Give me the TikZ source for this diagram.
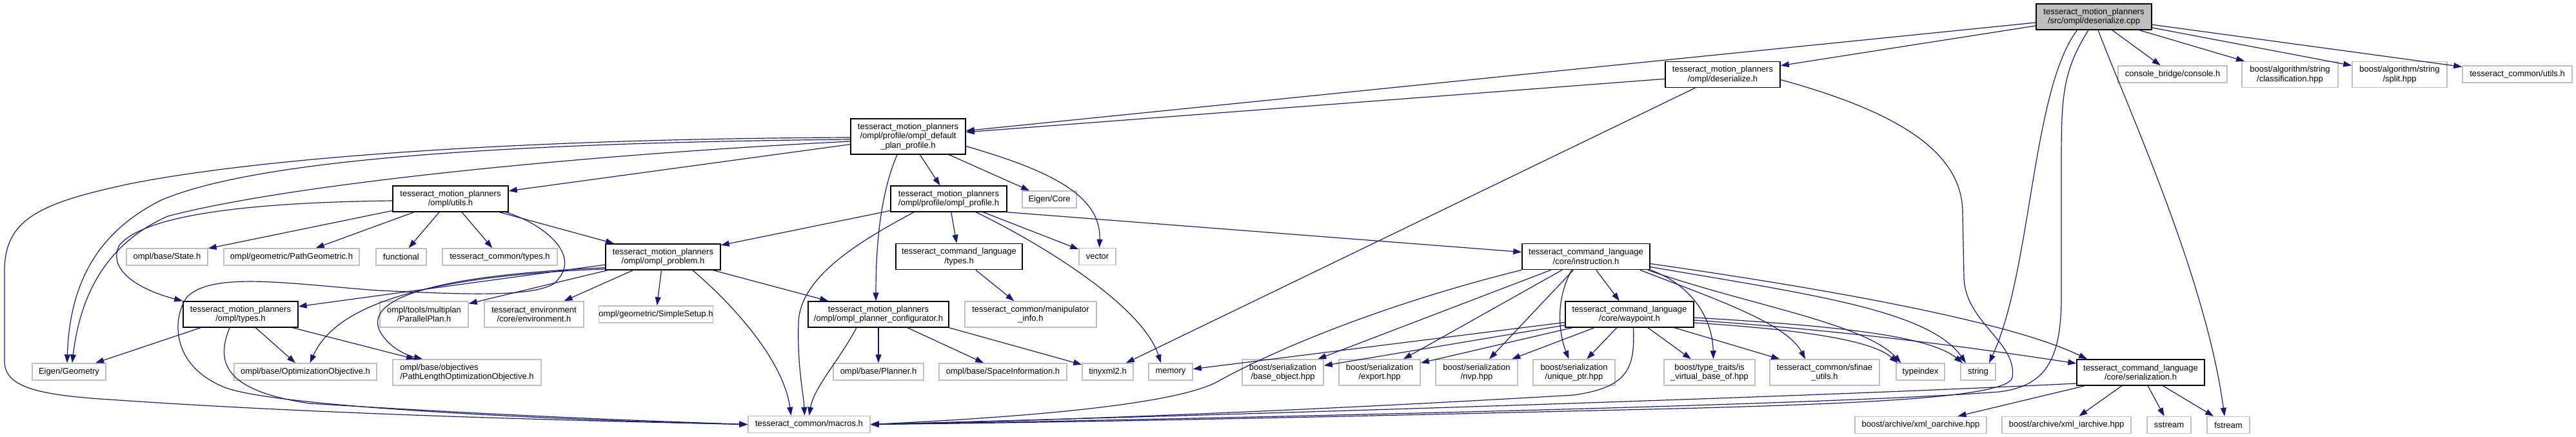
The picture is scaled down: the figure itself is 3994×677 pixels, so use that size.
\documentclass[tikz,border=0pt]{standalone}
\usepackage{fontspec}
\setmainfont{Liberation Sans}
\usetikzlibrary{arrows.meta}
\definecolor{edgeblue}{RGB}{25,25,112}
\definecolor{leafgray}{RGB}{191,191,191}

\begin{document}
\begin{tikzpicture}[x=1pt, y=-1pt,
    file/.style={draw=leafgray, line width=1.5pt, fill=white,
                 font=\fontsize{13pt}{14.5pt}\selectfont,
                 align=center, inner sep=0pt, minimum height=26pt},
    hdr/.style={file, draw=black},
    two/.style={minimum height=40pt},
    arr/.style={-{Triangle[length=13pt,width=9pt]}, line width=1.2pt, color=edgeblue}
  ]
  \useasboundingbox (0,0) rectangle (3994,677);

  \node[hdr, fill=leafgray, two, minimum width=179pt] (root) at (3246.5,26) {tesseract\_motion\_planners\\/src/ompl/deserialize.cpp};
  \node[hdr, two, minimum width=178pt] (deserH) at (2671,115.5) {tesseract\_motion\_planners\\/ompl/deserialize.h};
  \node[file, minimum width=169pt] (cbConsole) at (3368.5,115) {console\_bridge/console.h};
  \node[file, two, minimum width=149pt] (boostClass) at (3550.5,115.5) {boost/algorithm/string\\/classification.hpp};
  \node[file, two, minimum width=147pt] (boostSplit) at (3720.5,115.5) {boost/algorithm/string\\/split.hpp};
  \node[file, minimum width=170pt] (cmnUtils) at (3903,115) {tesseract\_common/utils.h};
  \node[hdr, minimum height=55pt, minimum width=178pt] (defProfile) at (1408,211.5) {tesseract\_motion\_planners\\/ompl/profile/ompl\_default\\\_plan\_profile.h};
  \node[hdr, two, minimum width=180pt] (omplProfile) at (1471,308) {tesseract\_motion\_planners\\/ompl/profile/ompl\_profile.h};
  \node[file, minimum width=84pt] (eigenCore) at (1627,309) {Eigen/Core};
  \node[hdr, two, minimum width=179pt] (omplUtils) at (698.5,308) {tesseract\_motion\_planners\\/ompl/utils.h};
  \node[file, minimum width=126pt] (omplState) at (259,398) {ompl/base/State.h};
  \node[file, minimum width=210pt] (pathGeom) at (452,398) {ompl/geometric/PathGeometric.h};
  \node[file, minimum width=78pt] (functional) at (622,398) {functional};
  \node[file, minimum width=178pt] (cmnTypes) at (775,398) {tesseract\_common/types.h};
  \node[hdr, two, minimum width=178pt] (omplProblem) at (1028,398) {tesseract\_motion\_planners\\/ompl/ompl\_problem.h};
  \node[file, minimum width=57pt] (vectorH) at (1701.5,397.5) {vector};
  \node[hdr, two, minimum width=196pt] (clTypes) at (1487,397.5) {tesseract\_command\_language\\/types.h};
  \node[hdr, two, minimum width=198pt] (instr) at (2459,397.5) {tesseract\_command\_language\\/core/instruction.h};
  \node[hdr, two, minimum width=178pt] (omplTypes) at (373,487) {tesseract\_motion\_planners\\/ompl/types.h};
  \node[file, two, minimum width=137pt] (parallelPlan) at (657.5,487) {ompl/tools/multiplan\\/ParallelPlan.h};
  \node[file, two, minimum width=154pt] (envCore) at (828,487) {tesseract\_environment\\/core/environment.h};
  \node[file, minimum width=176pt] (simpleSetup) at (1017,487) {ompl/geometric/SimpleSetup.h};
  \node[hdr, two, minimum width=218pt] (plannerCfg) at (1362,487) {tesseract\_motion\_planners\\/ompl/ompl\_planner\_configurator.h};
  \node[file, two, minimum width=204pt] (manipInfo) at (1598,487) {tesseract\_common/manipulator\\\_info.h};
  \node[hdr, two, minimum width=199pt] (waypoint) at (2526.5,487) {tesseract\_command\_language\\/core/waypoint.h};
  \node[file, minimum width=114pt] (eigenGeom) at (107,576) {Eigen/Geometry};
  \node[file, minimum width=221pt] (optObj) at (473.5,576) {ompl/base/OptimizationObjective.h};
  \node[file, two, minimum width=230pt, align=left] (pathLenObj) at (724,577) {ompl/base/objectives\\/PathLengthOptimizationObjective.h};
  \node[file, minimum width=140pt] (omplPlanner) at (1362,576) {ompl/base/Planner.h};
  \node[file, minimum width=198pt] (spaceInfo) at (1555,576) {ompl/base/SpaceInformation.h};
  \node[file, minimum width=79pt] (tinyxml) at (1717.5,576) {tinyxml2.h};
  \node[file, minimum width=68pt] (memoryH) at (1815,576) {memory};
  \node[file, two, minimum width=126pt] (baseObject) at (1989,577) {boost/serialization\\/base\_object.hpp};
  \node[file, two, minimum width=126pt] (exportH) at (2139,577) {boost/serialization\\/export.hpp};
  \node[file, two, minimum width=127pt] (nvpH) at (2289.5,577) {boost/serialization\\/nvp.hpp};
  \node[file, two, minimum width=127pt] (uniquePtr) at (2440.5,577) {boost/serialization\\/unique\_ptr.hpp};
  \node[file, two, minimum width=141pt] (isVirtual) at (2650.5,577) {boost/type\_traits/is\\\_virtual\_base\_of.hpp};
  \node[file, two, minimum width=170pt] (sfinae) at (2829,577) {tesseract\_common/sfinae\\\_utils.h};
  \node[file, minimum width=75pt] (typeindexH) at (2977.5,576) {typeindex};
  \node[file, minimum width=54pt] (stringH) at (3067,576) {string};
  \node[hdr, two, minimum width=198pt] (serial) at (3319,577) {tesseract\_command\_language\\/core/serialization.h};
  \node[file, minimum width=189pt] (macros) at (1254.5,657.5) {tesseract\_common/macros.h};
  \node[file, minimum width=204pt] (xmlOut) at (2978,658.5) {boost/archive/xml\_oarchive.hpp};
  \node[file, minimum width=200pt] (xmlIn) at (3204,658.5) {boost/archive/xml\_iarchive.hpp};
  \node[file, minimum width=68pt] (sstreamH) at (3363,658.5) {sstream};
  \node[file, minimum width=66pt] (fstreamH) at (3455,658.5) {fstream};

  \draw[arr] (root) -- (deserH);
  \draw[arr] (root) -- (defProfile);
  \draw[arr] (root) -- (cbConsole);
  \draw[arr] (root) -- (boostClass);
  \draw[arr] (root) -- (boostSplit);
  \draw[arr] (root) -- (cmnUtils);
  \draw[arr] ([xshift=-26pt]root.south) .. controls (3150,140) and (3150,420) .. ([xshift=17pt]stringH.north);
  \draw[arr] ([xshift=-8.5pt]root.south) .. controls (3198,110) and (3196,150) .. (3196,250) -- (3196,460)
     .. controls (3196,560) and (3170,598) .. (3100,607) .. controls (2800,630) and (1700,652) .. (macros.east);
  \draw[arr] ([xshift=6.5pt]root.south) .. controls (3300,170) and (3420,430) .. ([xshift=-6pt]fstreamH.north);

  \draw[arr] (deserH) -- (defProfile);
  \draw[arr] (deserH) -- (tinyxml);
  \draw[arr] ([yshift=-8pt]deserH.east) .. controls (2930,170) and (3043,230) .. (3043,330) -- (3045,430)
     .. controls (3047,500) and (3128,530) .. (3120,585) .. controls (3112,615) and (2900,625) .. (2600,633)
     .. controls (2100,645) and (1700,654) .. (macros.east);

  \draw[arr] (defProfile) -- (omplProfile);
  \draw[arr] (defProfile) -- (eigenCore);
  \draw[arr] (defProfile) -- (omplUtils);
  \draw[arr] ([yshift=-15pt]defProfile.east) .. controls (1620,262) and (1708,300) .. ([xshift=3pt]vectorH.north);
  \draw[arr] ([xshift=-17pt]defProfile.south) .. controls (1365,300) and (1358,380) .. ([xshift=-4pt]plannerCfg.north);
  \draw[arr] ([yshift=-1.5pt]defProfile.west) .. controls (800,215) and (400,245) .. (200,285)
     .. controls (60,315) and (7,340) .. (7,420) -- (7,560) .. controls (7,600) and (60,612) .. (170,619)
     .. controls (500,642) and (900,652) .. (macros.west);
  \draw[arr] ([yshift=-4.5pt]defProfile.west) .. controls (700,222) and (380,255) .. (250,310)
     .. controls (150,360) and (108,440) .. ([xshift=-3pt]eigenGeom.north);
  \draw[arr] ([yshift=-7.5pt]defProfile.west) .. controls (900,240) and (450,285) .. (260,335)
     .. controls (170,375) and (125,450) .. ([xshift=5pt]eigenGeom.north);

  \draw[arr] (omplProfile) -- (omplProblem);
  \draw[arr] (omplProfile) -- (clTypes);
  \draw[arr] (omplProfile) -- (vectorH);
  \draw[arr] (omplProfile.south east) -- ([yshift=7pt]instr.west);
  \draw[arr] ([xshift=42pt]omplProfile.south) .. controls (1600,370) and (1770,470) .. ([xshift=-15pt]memoryH.north);
  \draw[arr] ([xshift=-54pt]omplProfile.south) .. controls (1330,375) and (1240,430) .. (1238,500)
     .. controls (1236,570) and (1246,610) .. ([xshift=-7pt]macros.north);

  \draw[arr] (clTypes) -- (manipInfo);

  \draw[arr] (omplUtils) -- (omplState);
  \draw[arr] (omplUtils) -- (pathGeom);
  \draw[arr] (omplUtils) -- (functional);
  \draw[arr] (omplUtils) -- (cmnTypes);
  \draw[arr] (omplUtils) -- (omplProblem);
  \draw[arr] ([yshift=-3pt]omplUtils.west) .. controls (440,313) and (230,325) .. (185,380)
     .. controls (165,420) and (220,450) .. (omplTypes.north west);
  \draw[arr] ([xshift=-4pt]omplUtils.south east) .. controls (850,350) and (905,400) .. (858,440)
     .. controls (820,462) and (700,455) .. (586,450) .. controls (450,440) and (330,420) .. (290,460)
     .. controls (268,490) and (262,565) .. (348,600) .. controls (430,632) and (900,652) .. (macros.west);

  \draw[arr] (omplProblem) -- (omplTypes);
  \draw[arr] (omplProblem) -- (parallelPlan);
  \draw[arr] (omplProblem) -- (envCore);
  \draw[arr] (omplProblem) -- (simpleSetup);
  \draw[arr] (omplProblem) -- (plannerCfg);
  \draw[arr] ([yshift=2pt]omplProblem.south west) .. controls (650,428) and (520,475) .. ([xshift=7pt]optObj.north);
  \draw[arr] ([yshift=4pt]omplProblem.south west) .. controls (640,428) and (565,470) .. (590,515)
     .. controls (605,540) and (630,550) .. ([xshift=-69pt]pathLenObj.north);
  \draw[arr] ([xshift=46pt]omplProblem.south) .. controls (1140,475) and (1215,560) .. ([xshift=-28pt]macros.north);

  \draw[arr] (omplTypes) -- (eigenGeom);
  \draw[arr] (omplTypes) -- (optObj);
  \draw[arr] (omplTypes) -- (pathLenObj);
  \draw[arr] ([xshift=-17pt]omplTypes.south) .. controls (335,560) and (345,605) .. (480,625)
     .. controls (800,645) and (1000,652) .. (macros.west);

  \draw[arr] (plannerCfg) -- (omplPlanner);
  \draw[arr] (plannerCfg) -- (spaceInfo);
  \draw[arr] (plannerCfg.south east) -- (tinyxml);
  \draw[arr] ([xshift=-34pt]plannerCfg.south) .. controls (1300,560) and (1262,600) .. (macros.north);

  \draw[arr] (instr) -- (baseObject);
  \draw[arr] (instr) -- (exportH);
  \draw[arr] (instr) -- (nvpH);
  \draw[arr] (instr) -- (waypoint);
  \draw[arr] ([xshift=-22pt]instr.south) .. controls (2408,470) and (2420,525) .. ([xshift=-8pt]uniquePtr.north);
  \draw[arr] (instr.south east) .. controls (2620,440) and (2655,490) .. ([xshift=6pt]isVirtual.north);
  \draw[arr] ([xshift=-16pt]instr.south east) .. controls (2650,460) and (2770,500) .. ([xshift=-30pt]sfinae.north);
  \draw[arr] ([xshift=-4pt]instr.south east) .. controls (2700,470) and (2890,500) .. ([xshift=-30pt]typeindexH.north);
  \draw[arr] ([yshift=-16pt]instr.east) .. controls (2800,455) and (2990,480) .. ([xshift=-19pt]stringH.north);
  \draw[arr] ([yshift=-11pt]instr.east) .. controls (2850,450) and (3120,500) .. ([xshift=-83pt]serial.north);
  \draw[arr] (instr.south west) .. controls (2150,470) and (1980,540) .. (1890,590)
     .. controls (1820,630) and (1550,648) .. (macros.east);

  \draw[arr] (waypoint) -- (memoryH);
  \draw[arr] (waypoint) -- (baseObject);
  \draw[arr] (waypoint) -- (exportH);
  \draw[arr] (waypoint) -- (nvpH);
  \draw[arr] (waypoint) -- (uniquePtr);
  \draw[arr] (waypoint) -- (isVirtual);
  \draw[arr] (waypoint) -- (sfinae);
  \draw[arr] ([yshift=-13pt]waypoint.east) .. controls (2780,510) and (2900,525) .. ([xshift=-35pt]typeindexH.north);
  \draw[arr] ([yshift=-5pt]waypoint.east) .. controls (2850,505) and (2990,520) .. ([xshift=-24pt]stringH.north);
  \draw[arr] ([yshift=-9pt]waypoint.east) .. controls (2900,515) and (3100,545) .. ([yshift=14pt]serial.west);
  \draw[arr] ([xshift=6pt]waypoint.south) .. controls (2535,570) and (2525,600) .. (2440,612)
     .. controls (2100,632) and (1700,650) .. (macros.east);

  \draw[arr] (serial) -- (xmlOut);
  \draw[arr] (serial) -- (xmlIn);
  \draw[arr] (serial) -- (sstreamH);
  \draw[arr] (serial) -- (fstreamH);
  \draw[arr] ([yshift=-17pt]serial.west) .. controls (2800,615) and (2000,640) .. (macros.east);
\end{tikzpicture}
\end{document}
